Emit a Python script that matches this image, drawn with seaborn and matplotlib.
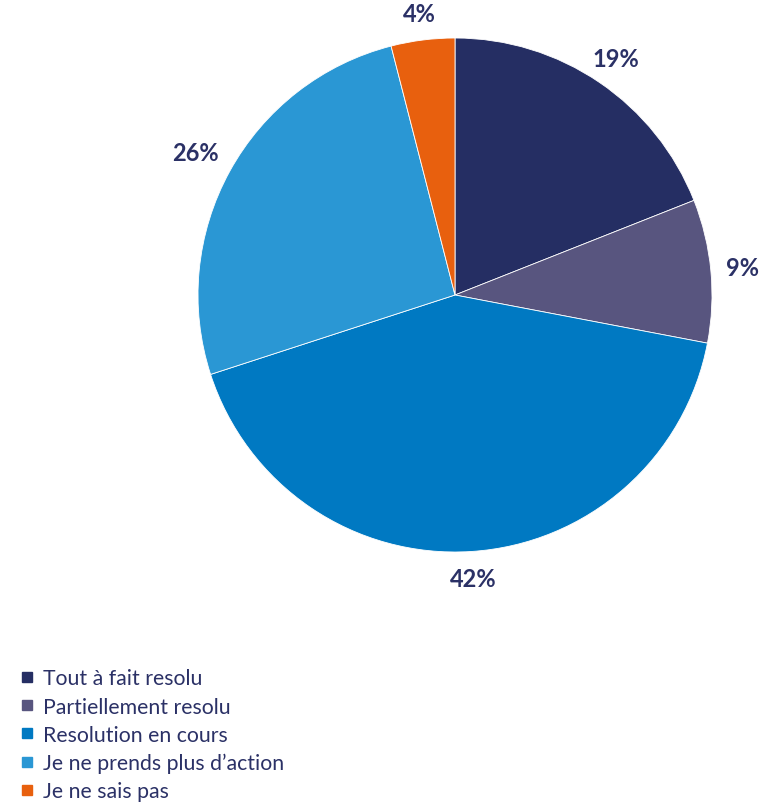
import matplotlib
matplotlib.use("Agg")
import numpy as np
import matplotlib.pyplot as plt
from matplotlib.lines import Line2D
import seaborn as sns

# --- Data ---
categories = [
    "Tout à fait resolu",
    "Partiellement resolu",
    "Resolution en cours",
    "Je ne prends plus d’action",
    "Je ne sais pas",
]
shares = [19, 9, 42, 26, 4]
colors = ["#252E63", "#58557F", "#0079C2", "#2A97D4", "#E8600E"]
text_color = "#2B3166"

sns.set_theme(style="white")
plt.rcParams["font.family"] = ["Lato", "DejaVu Sans"]

fig = plt.figure(figsize=(7.6, 8.03), dpi=100)
ax = fig.add_axes([198 / 760, 250 / 803, 514 / 760, 514 / 803])

wedges, texts, autotexts = ax.pie(
    shares,
    colors=colors,
    startangle=90,
    counterclock=False,
    autopct="%1.0f%%",
    pctdistance=1.12,
    wedgeprops=dict(linewidth=0.6, edgecolor="white"),
    textprops=dict(color=text_color, fontsize=17, fontweight="bold"),
)
ax.set_xlim(-1, 1)
ax.set_ylim(-1, 1)
ax.set_aspect("equal")
ax.axis("off")

# Put each label just outside the rim, like "outside end" labels
fig.canvas.draw()
renderer = fig.canvas.get_renderer()
px_per_unit = ax.bbox.width / 2.0
gap = 0.06
for w, t in zip(wedges, autotexts):
    ang = np.deg2rad((w.theta1 + w.theta2) / 2.0)
    c, s = np.cos(ang), np.sin(ang)
    bb = t.get_window_extent(renderer)
    hw = bb.width / 2.0 / px_per_unit
    hh = bb.height / 2.0 / px_per_unit
    edge = min(hw / max(abs(c), 1e-6), hh / max(abs(s), 1e-6))
    d = 1.0 + gap + edge
    t.set_position((d * c, d * s))
    t.set_ha("center")
    t.set_va("center")

# Legend with square markers
handles = [
    Line2D([0], [0], marker="s", linestyle="", markersize=6.5,
           markerfacecolor=c, markeredgecolor=c)
    for c in colors
]
leg = fig.legend(
    handles, categories,
    loc="upper left",
    bbox_to_anchor=(10 / 760, 1 - 661 / 803),
    frameon=False,
    fontsize=15.3,
    handlelength=0.8,
    handletextpad=0.35,
    labelspacing=0.38,
    borderaxespad=0,
)
for t in leg.get_texts():
    t.set_color(text_color)

fig.savefig("out.png", dpi=100)
plt.close(fig)
